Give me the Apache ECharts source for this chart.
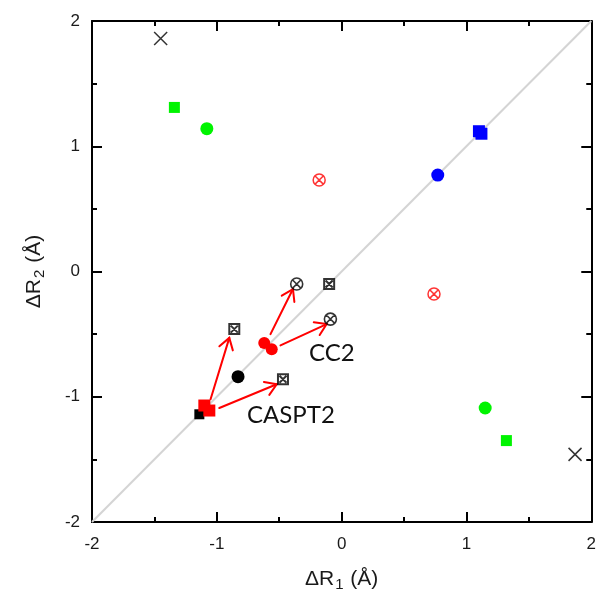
<!DOCTYPE html>
<html>
<head>
<meta charset="utf-8">
<title>ΔR1 vs ΔR2</title>
<script src="https://cdn.jsdelivr.net/npm/echarts@6/dist/echarts.min.js"></script>
<style>
  html, body { margin: 0; padding: 0; background: #fff; }
  #chart { width: 599px; height: 601px; }
</style>
</head>
<body>
<div id="chart"></div>
<script>
// Axis range and ticks
const axisMin = -2;
const axisMax = 2;
const axisStep = 1;

// Geometry points [ΔR1, ΔR2] in Å
const blueSquares = [[1.10, 1.12], [1.12, 1.10]];
const blueCircles = [[0.77, 0.77]];
const greenSquares = [[-1.34, 1.31], [1.32, -1.35]];
const greenCircles = [[-1.08, 1.14], [1.15, -1.09]];
const blackCrosses = [[-1.45, 1.86], [1.87, -1.46]];
const redCrossedCircles = [[-0.18, 0.73], [0.74, -0.18]];
const blackSquares = [[-1.14, -1.14]];
const redSquares = [[-1.10, -1.07], [-1.06, -1.11]];
const blackCircles = [[-0.83, -0.84]];
const redCircles = [[-0.62, -0.57], [-0.56, -0.62]];
const blackCrossedSquares = [[-0.86, -0.46], [-0.10, -0.10], [-0.47, -0.86]];
const blackCrossedCircles = [[-0.36, -0.10], [-0.09, -0.38]];

// Arrows: start -> end
const arrowStarts = [[-1.05, -1.02], [-0.98, -1.09], [-0.57, -0.50], [-0.49, -0.59]];
const arrowEnds = [[-0.90, -0.53], [-0.52, -0.90], [-0.39, -0.14], [-0.12, -0.42]];

const diagonal = [[axisMin, axisMin], [axisMax, axisMax]];

const FONT = '"Liberation Sans", Arial, sans-serif';
const LABEL_FONT = 'Lato, "Open Sans", sans-serif';

const crossedSquarePath = 'path://M0,0H10V10H0Z M1.5,1.5L8.5,8.5 M8.5,1.5L1.5,8.5';
const crossedCirclePath = 'path://M10,5A5,5 0 1,1 0,5A5,5 0 1,1 10,5Z M1.6,1.6L8.4,8.4 M8.4,1.6L1.6,8.4';
const crossPath = 'path://M0,0L10,10 M10,0L0,10';

function valueAxis(pos, showLabel, extra) {
  return Object.assign({
    type: 'value',
    position: pos,
    min: axisMin,
    max: axisMax,
    interval: axisStep,
    axisLine: { show: true, onZero: false, lineStyle: { color: '#000', width: 2 } },
    axisTick: { show: true, inside: true, length: 10, lineStyle: { color: '#000', width: 2 } },
    minorTick: { show: true, splitNumber: 2, length: 5, lineStyle: { color: '#000', width: 2 } },
    splitLine: { show: false },
    axisLabel: {
      show: showLabel,
      color: '#1a1a1a',
      fontFamily: FONT,
      fontSize: 17
    }
  }, extra || {});
}

const nameRich = {
  t: { fontSize: 21, fontFamily: FONT, color: '#1a1a1a', lineHeight: 26, verticalAlign: 'middle' },
  s: { fontSize: 15, fontFamily: FONT, color: '#1a1a1a', lineHeight: 15, verticalAlign: 'bottom', padding: [14, 1, 0, 1] }
};

function scatter(data, symbol, size, color, hollow, bw) {
  return {
    type: 'scatter',
    xAxisIndex: 0,
    yAxisIndex: 0,
    data: data,
    symbol: symbol,
    symbolSize: size,
    silent: true,
    z: 4,
    itemStyle: hollow
      ? { color: 'rgba(0,0,0,0)', borderColor: color, borderWidth: bw || 1.5 }
      : { color: color, opacity: 1 }
  };
}

const arrowData = arrowStarts.map((s, i) => [s[0], s[1], arrowEnds[i][0], arrowEnds[i][1]]);

const chart = echarts.init(document.getElementById('chart'), null, { renderer: 'canvas' });

chart.setOption({
  animation: false,
  backgroundColor: '#fff',
  grid: { left: 92, right: 7, top: 21, bottom: 79, containLabel: false },
  xAxis: [
    valueAxis('bottom', true, {
      name: '{t|ΔR}{s|1}{t| (Å)}',
      nameLocation: 'middle',
      nameGap: 44,
      nameTextStyle: { rich: nameRich },
      axisLabel: { show: true, color: '#1a1a1a', fontFamily: FONT, fontSize: 17, margin: 14 }
    }),
    valueAxis('top', false)
  ],
  yAxis: [
    valueAxis('left', true, {
      name: '{t|ΔR}{s|2}{t| (Å)}',
      nameLocation: 'middle',
      nameGap: 45,
      nameRotate: 90,
      nameTextStyle: { rich: nameRich },
      axisLabel: { show: true, color: '#1a1a1a', fontFamily: FONT, fontSize: 17, margin: 12 }
    }),
    valueAxis('right', false)
  ],
  series: [
    {
      type: 'line',
      data: diagonal,
      showSymbol: false,
      silent: true,
      z: 1,
      lineStyle: { color: '#d4d4d4', width: 2 }
    },
    scatter(blueSquares, 'rect', 12, '#0000ff'),
    scatter(blueCircles, 'circle', 13, '#0000ff'),
    scatter(greenSquares, 'rect', 11, '#00f400'),
    scatter(greenCircles, 'circle', 13, '#00f400'),
    scatter(blackCrosses, crossPath, 13, '#000', true, 1.5),
    scatter(redCrossedCircles, crossedCirclePath, 12, '#ff0000', true, 1.5),
    scatter(blackSquares, 'rect', 10, '#000'),
    scatter(redSquares, 'rect', 12, '#ff0000'),
    scatter(blackCircles, 'circle', 13, '#000'),
    scatter(redCircles, 'circle', 12, '#ff0000'),
    scatter(blackCrossedSquares, crossedSquarePath, 10, '#000', true, 2),
    scatter(blackCrossedCircles, crossedCirclePath, 12, '#000', true, 1.6),
    {
      type: 'custom',
      data: arrowData,
      silent: true,
      z: 3,
      encode: { x: [0, 2], y: [1, 3] },
      renderItem: function (params, api) {
        const p0 = api.coord([api.value(0), api.value(1)]);
        const p1 = api.coord([api.value(2), api.value(3)]);
        const ang = Math.atan2(p1[1] - p0[1], p1[0] - p0[0]);
        const len = 13;
        const spread = Math.PI / 5.5;
        const h1 = [p1[0] - len * Math.cos(ang - spread), p1[1] - len * Math.sin(ang - spread)];
        const h2 = [p1[0] - len * Math.cos(ang + spread), p1[1] - len * Math.sin(ang + spread)];
        const st = { stroke: '#ff0000', lineWidth: 2, fill: null, lineCap: 'round', lineJoin: 'miter' };
        return {
          type: 'group',
          children: [
            { type: 'line', shape: { x1: p0[0], y1: p0[1], x2: p1[0], y2: p1[1] }, style: st },
            { type: 'polyline', shape: { points: [h1, p1, h2] }, style: st }
          ]
        };
      }
    }
  ],
  graphic: [
    {
      type: 'text',
      left: 309,
      top: 341,
      silent: true,
      style: { text: 'CC2', fontFamily: LABEL_FONT, fontSize: 24, fill: '#111' }
    },
    {
      type: 'text',
      left: 247,
      top: 403,
      silent: true,
      style: { text: 'CASPT2', fontFamily: LABEL_FONT, fontSize: 24, fill: '#111' }
    }
  ]
});
</script>
</body>
</html>
